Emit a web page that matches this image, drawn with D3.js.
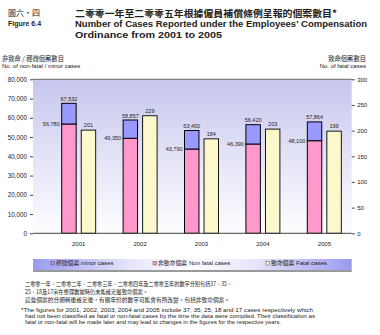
<!DOCTYPE html>
<html><head><meta charset="utf-8">
<script src="https://cdn.jsdelivr.net/npm/d3@7"></script>
<style>
body{margin:0;background:#fff;}
text{font-family:"Liberation Sans",Arial,sans-serif;fill:#222;}
.zh{font-family:"Noto Sans CJK TC","Noto Sans CJK SC",sans-serif;}
</style></head><body>
<svg id="c" width="380" height="335"></svg>
<script>
const years = ["2001","2002","2003","2004","2005"];
const nonFatalCases = [56780, 49350, 43790, 46390, 48100];
const minorCases = [10752, 9507, 9610, 10030, 9764];
const fatalCases = [201, 229, 184, 203, 199];
const leftTicks = [0,10000,20000,30000,40000,50000,60000,70000,80000];
const rightTicks = [0,50,100,150,200,250,300];

const svg = d3.select("#c");
const defs = svg.append("defs");
const g1 = defs.append("linearGradient").attr("id","bg").attr("x1",0).attr("y1",0).attr("x2",0).attr("y2",1);
g1.append("stop").attr("offset","0").attr("stop-color","#c6c6ee");
g1.append("stop").attr("offset","0.55").attr("stop-color","#e6e6f8");
g1.append("stop").attr("offset","1").attr("stop-color","#fdfdff");
const g2 = defs.append("linearGradient").attr("id","lg").attr("x1",0).attr("y1",0).attr("x2",1).attr("y2",0);
g2.append("stop").attr("offset","0").attr("stop-color","#9a9af0");
g2.append("stop").attr("offset","0.3").attr("stop-color","#e4e4fa");
g2.append("stop").attr("offset","0.5").attr("stop-color","#ffffff");
g2.append("stop").attr("offset","0.7").attr("stop-color","#e4e4fa");
g2.append("stop").attr("offset","1").attr("stop-color","#9a9af0");

const L = 33, R = 351.7, T = 79.3, B = 233.3;
const y = d3.scaleLinear().domain([0,80000]).range([B,T]);
const yR = d3.scaleLinear().domain([0,300]).range([B,T]);
const x = d3.scaleBand().domain(years).range([48,355]);
const xi = d3.scaleBand().domain(["nf","f"]).range([-17,17]).paddingInner(0.26);

// titles
svg.append("text").attr("class","zh").attr("x",8).attr("y",16).attr("font-size",8).text("圖六・四");
svg.append("text").attr("x",8).attr("y",25.5).attr("font-size",7).attr("font-weight","bold").text("Figure 6.4");
svg.append("text").attr("class","zh").attr("x",75).attr("y",16.5).attr("font-size",9.5).attr("font-weight","bold")
  .attr("textLength",262).attr("lengthAdjust","spacingAndGlyphs").text("二零零一年至二零零五年根據僱員補償條例呈報的個案數目*");
svg.append("text").attr("x",75).attr("y",27).attr("font-size",9).attr("font-weight","bold")
  .attr("textLength",292).attr("lengthAdjust","spacingAndGlyphs").text("Number of Cases Reported under the Employees' Compensation");
svg.append("text").attr("x",75).attr("y",37.5).attr("font-size",9).attr("font-weight","bold")
  .attr("textLength",147).attr("lengthAdjust","spacingAndGlyphs").text("Ordinance from 2001 to 2005");

// axis titles
svg.append("text").attr("class","zh").attr("x",2).attr("y",60.5).attr("font-size",6.3).text("非致命 / 輕微個案數目");
svg.append("text").attr("x",2).attr("y",67.5).attr("font-size",6).text("No. of non-fatal / minor cases");
svg.append("text").attr("class","zh").attr("x",366).attr("y",60.5).attr("font-size",6.3).attr("text-anchor","end").text("致命個案數目");
svg.append("text").attr("x",366).attr("y",67.5).attr("font-size",6).attr("text-anchor","end").text("No. of fatal cases");

// plot background
svg.append("rect").attr("x",L).attr("y",T).attr("width",R-L).attr("height",B-T).attr("fill","url(#bg)");
svg.append("line").attr("x1",L).attr("x2",R).attr("y1",T).attr("y2",T).attr("stroke","#666").attr("stroke-width",1);

// axes
const ax = svg.append("g").attr("transform",`translate(${L},0)`)
  .call(d3.axisLeft(y).tickValues(leftTicks).tickSize(3).tickPadding(3).tickFormat(d3.format(",")));
ax.select(".domain").remove();
ax.selectAll("text").attr("font-size",6.3).attr("fill","#333");
ax.selectAll("line").attr("stroke","#444");
const axR = svg.append("g").attr("transform",`translate(${R},0)`)
  .call(d3.axisRight(yR).tickValues(rightTicks).tickSize(3).tickPadding(2.5));
axR.select(".domain").remove();
axR.selectAll("text").attr("font-size",6).attr("fill","#333");
axR.selectAll("line").attr("stroke","#444");

// bars
const grp = svg.selectAll(".grp").data(years).join("g").attr("class","grp")
  .attr("transform",d=>`translate(${x(d)+x.bandwidth()/2},0)`);
grp.append("rect").attr("x",xi("nf")).attr("width",xi.bandwidth())
  .attr("y",(d,i)=>y(nonFatalCases[i])).attr("height",(d,i)=>B-y(nonFatalCases[i]))
  .attr("fill","#ff99cc").attr("stroke","#000").attr("stroke-width",1);
grp.append("rect").attr("x",xi("nf")).attr("width",xi.bandwidth())
  .attr("y",(d,i)=>y(nonFatalCases[i]+minorCases[i])).attr("height",(d,i)=>y(nonFatalCases[i])-y(nonFatalCases[i]+minorCases[i]))
  .attr("fill","#9999ff").attr("stroke","#000").attr("stroke-width",1);
grp.append("rect").attr("x",xi("f")).attr("width",xi.bandwidth())
  .attr("y",(d,i)=>yR(fatalCases[i])).attr("height",(d,i)=>B-yR(fatalCases[i]))
  .attr("fill","#fbf8cc").attr("stroke","#000").attr("stroke-width",0.9);
const fmt = d3.format(",");
grp.append("text").attr("x",xi("nf")+xi.bandwidth()/2).attr("y",(d,i)=>y(nonFatalCases[i]+minorCases[i])-2.5)
  .attr("text-anchor","middle").attr("font-size",5.5).text((d,i)=>fmt(nonFatalCases[i]+minorCases[i]));
grp.append("text").attr("x",xi("nf")-2).attr("y",(d,i)=>y(nonFatalCases[i])+2)
  .attr("text-anchor","end").attr("font-size",5.5).text((d,i)=>fmt(nonFatalCases[i]));
grp.append("text").attr("x",xi("f")+xi.bandwidth()/2).attr("y",(d,i)=>yR(fatalCases[i])-3)
  .attr("text-anchor","middle").attr("font-size",5.5).text((d,i)=>fatalCases[i]);
grp.append("text").attr("x",0).attr("y",246).attr("text-anchor","middle").attr("font-size",6).attr("fill","#333").text(d=>d);

// baseline
svg.append("line").attr("x1",L).attr("x2",R).attr("y1",B).attr("y2",B).attr("stroke","#444").attr("stroke-width",1);

// legend
svg.append("rect").attr("x",L).attr("y",259).attr("width",R-L).attr("height",11).attr("fill","url(#lg)");
svg.append("line").attr("x1",L).attr("x2",R).attr("y1",271).attr("y2",271).attr("stroke","#000").attr("stroke-width",0.8);
const legendItems = [
  {zh:"輕微個案", en:"minor cases", c:"#9999ff", x:51},
  {zh:"非致命個案", en:"Non fatal cases", c:"#ff99cc", x:153},
  {zh:"致命個案", en:"Fatal cases", c:"#fbf8cc", x:266}
];
const lg = svg.selectAll(".lg").data(legendItems).join("g").attr("class","lg").attr("transform",d=>`translate(${d.x},265)`);
lg.append("rect").attr("x",0).attr("y",-3.5).attr("width",3.5).attr("height",3.5).attr("fill",d=>d.c).attr("stroke","#333").attr("stroke-width",0.4);
lg.append("text").attr("class","zh").attr("x",5).attr("y",0).attr("font-size",5.8).text(d=>d.zh);
lg.append("text").attr("x",d=>5+d.zh.length*5.9+1.5).attr("y",0).attr("font-size",6).attr("fill","#333").text(d=>d.en);

// footnotes
const notesZh = [
  "二零零一年、二零零二年、二零零三年、二零零四年及二零零五年的數字分別包括37、35、",
  "25、18及17宗在整理數據時仍未能確定屬致命個案。",
  "這些個案的分類稍後確定後，有關年份的數字可能會有所改變，包括非致命個案。"
];
const zhLen = [207, 123, 205];
notesZh.forEach((t,i)=>{
  svg.append("text").attr("class","zh").attr("x",25).attr("y",286+i*8.2).attr("font-size",5.5)
    .attr("textLength",zhLen[i]).attr("lengthAdjust","spacingAndGlyphs").text(t);
});
const notesEn = [
  "*The figures for 2001, 2002, 2003, 2004 and 2005 include 37, 35, 25, 18 and 17 cases respectively which",
  "had not been classified as fatal or non-fatal cases by the time the data were compiled. Their classification as",
  "fatal or non-fatal will be made later and may lead to changes in the figures for the respective years."
];
const enX = [21, 25, 25], enLen = [292, 290, 256];
notesEn.forEach((t,i)=>{
  svg.append("text").attr("x",enX[i]).attr("y",311.5+i*6.4).attr("font-size",5.3)
    .attr("textLength",enLen[i]).attr("lengthAdjust","spacingAndGlyphs").text(t);
});
</script></body></html>
